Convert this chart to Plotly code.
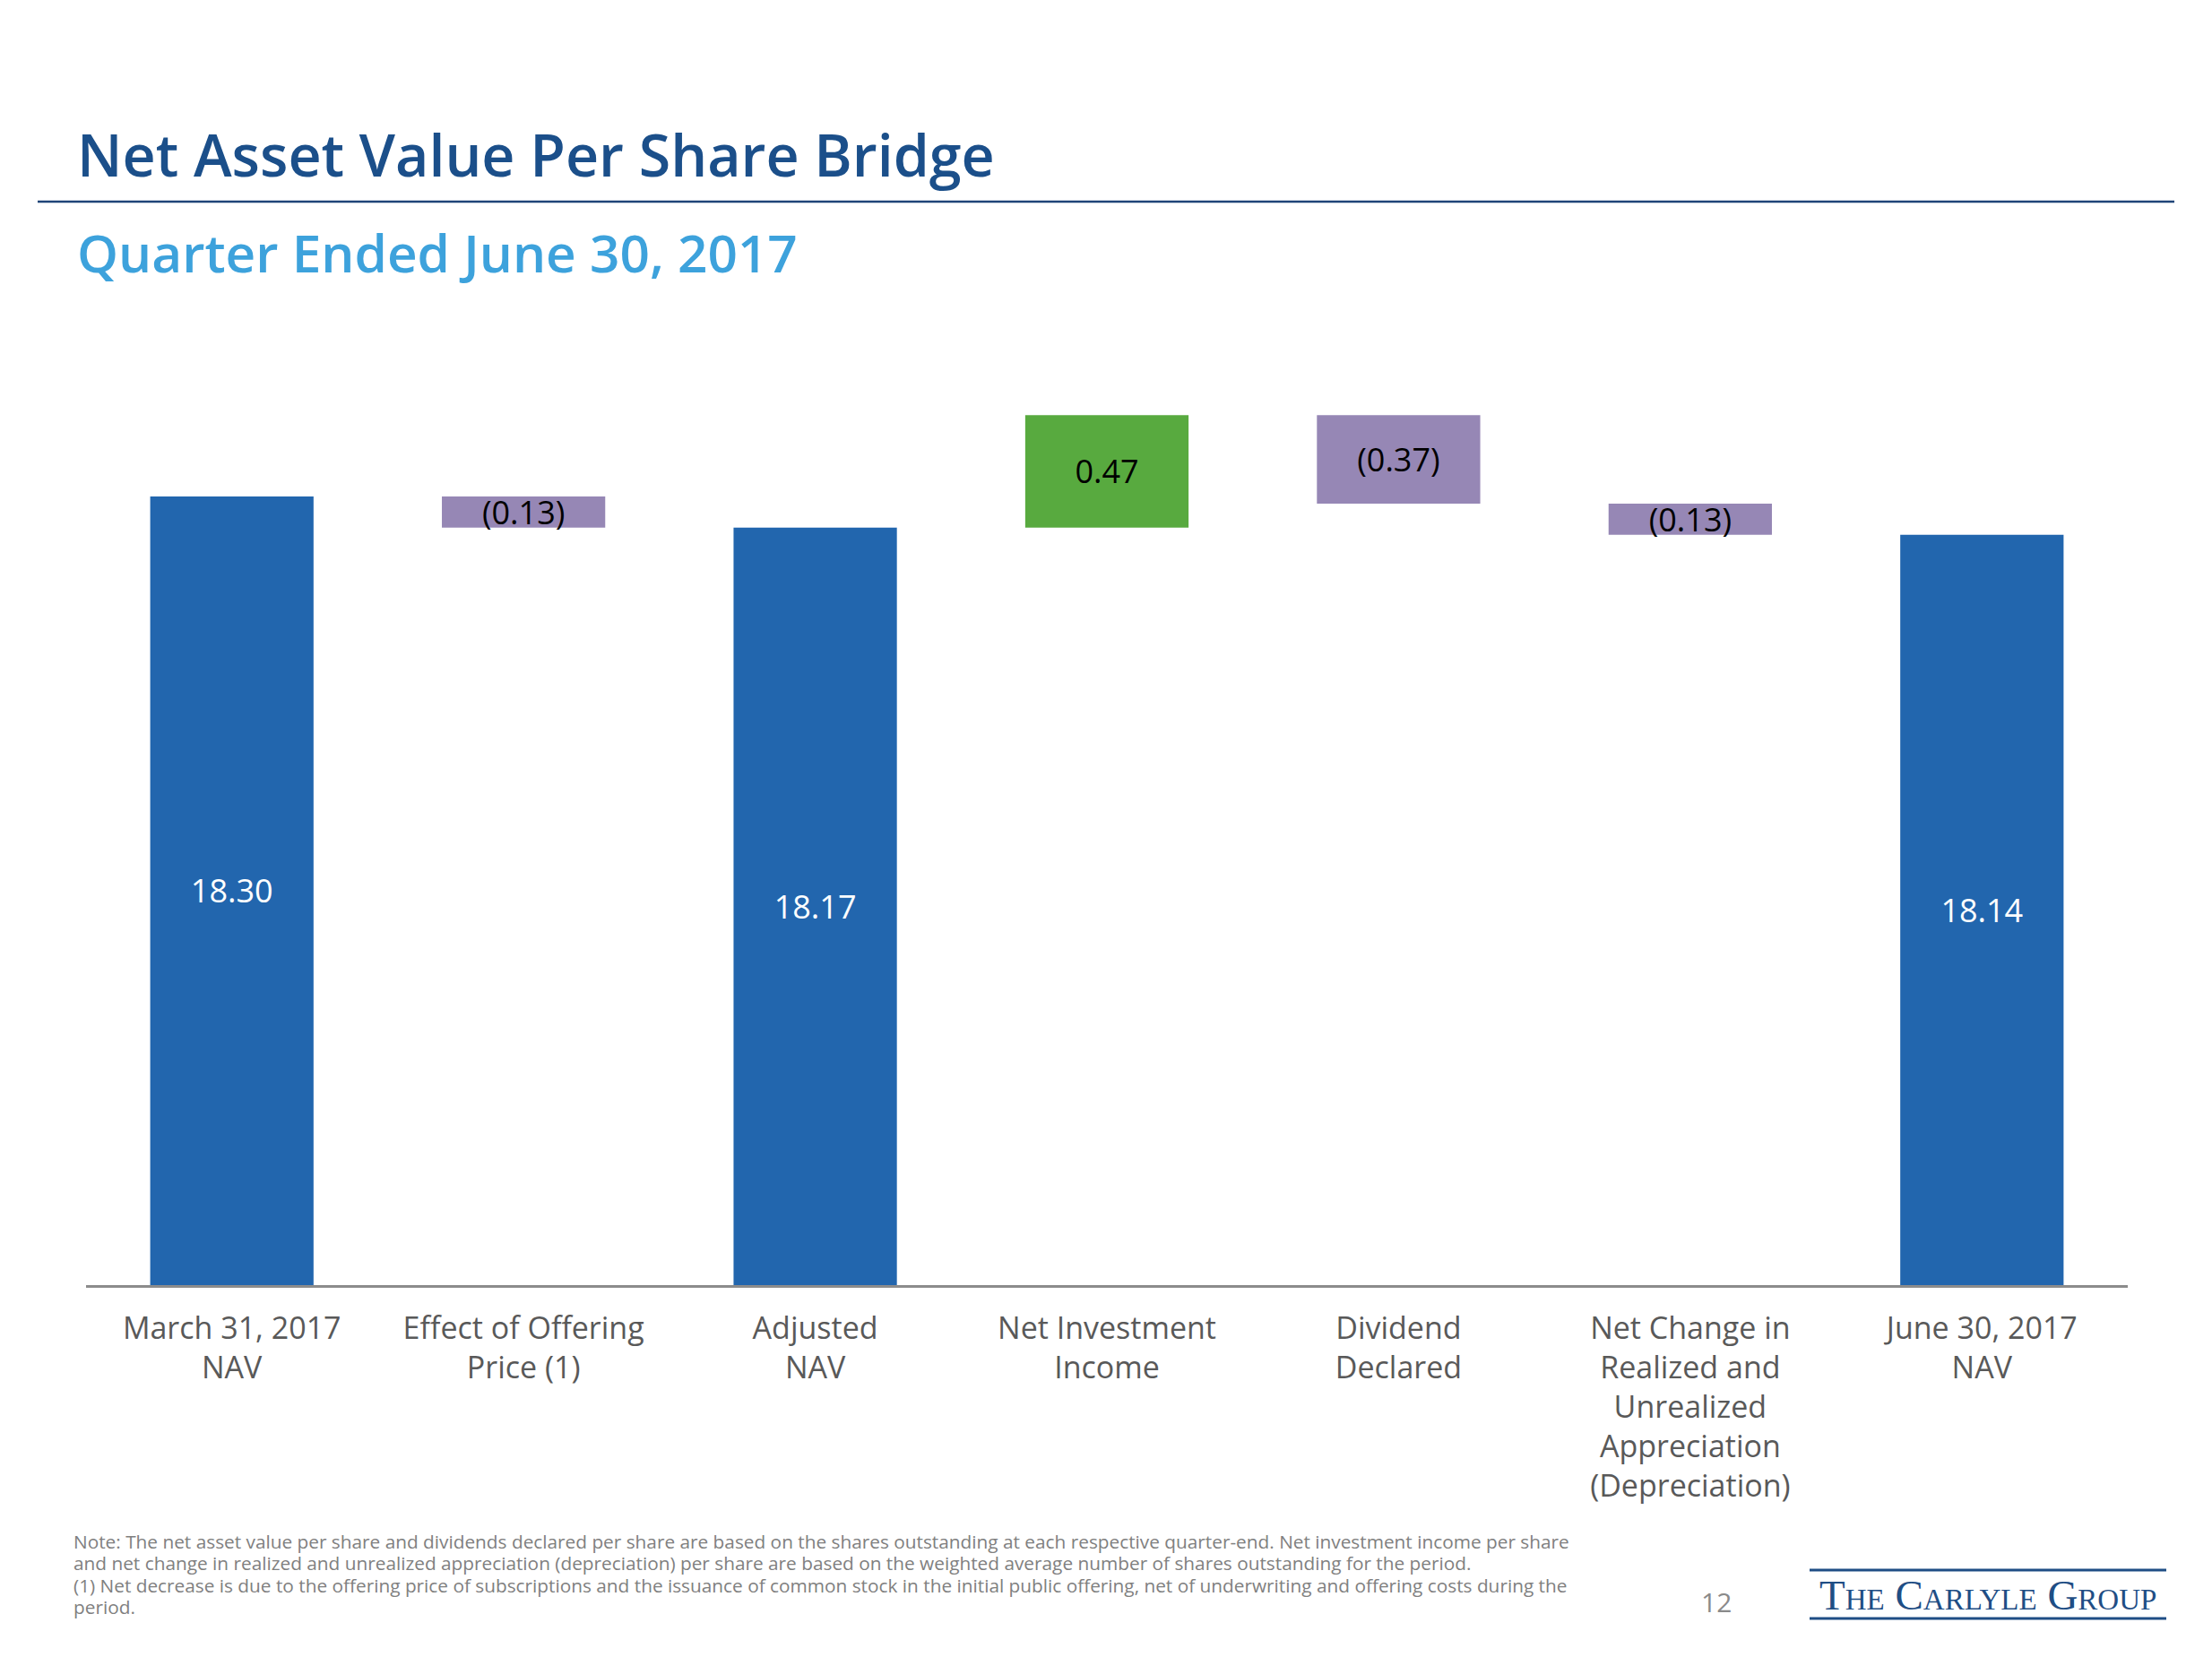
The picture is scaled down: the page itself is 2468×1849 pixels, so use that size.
import plotly.graph_objects as go

# ---- data ----
categories = [
    "March 31, 2017<br>NAV",
    "Effect of Offering<br>Price (1)",
    "Adjusted<br>NAV",
    "Net Investment<br>Income",
    "Dividend<br>Declared",
    "Net Change in<br>Realized and<br>Unrealized<br>Appreciation<br>(Depreciation)",
    "June 30, 2017<br>NAV",
]
values = [18.30, -0.13, 18.17, 0.47, -0.37, -0.13, 18.14]
measures = ["total", "relative", "total", "relative", "relative", "relative", "total"]
labels = ["18.30", "(0.13)", "18.17", "0.47", "(0.37)", "(0.13)", "18.14"]

footnote_lines = [
    "Note: The net asset value per share and dividends declared per share are based on the shares outstanding at each respective quarter-end. Net investment income per share",
    "and net change in realized and unrealized appreciation (depreciation) per share are based on the weighted average number of shares outstanding for the period.",
    "(1) Net decrease is due to the offering price of subscriptions and the issuance of common stock in the initial public offering, net of underwriting and offering costs during the",
    "period.",
]

# ---- styling ----
W, H = 2468, 1849
Y_MIN = 15.0
PX_PER_UNIT = 266.67
AXIS_Y_PX = 1434
PLOT_TOP_PX = 420
FONT = "Segoe UI, Open Sans, sans-serif"
C_TOTAL = "#2266AE"
C_UP = "#58AA3F"
C_DOWN = "#9687B5"

bases, heights, colors, txtcolors = [], [], [], []
running = 0.0
for v, m in zip(values, measures):
    if m == "total":
        running = v
        bases.append(Y_MIN)
        heights.append(v - Y_MIN)
        colors.append(C_TOTAL)
        txtcolors.append("white")
    else:
        bases.append(running)
        heights.append(v)
        running += v
        colors.append(C_UP if v > 0 else C_DOWN)
        txtcolors.append("black")

fig = go.Figure(
    go.Bar(
        x=categories,
        y=heights,
        base=bases,
        marker=dict(color=colors, line=dict(width=0)),
        text=labels,
        textposition="inside",
        insidetextanchor="middle",
        constraintext="none",
        textangle=0,
        insidetextfont=dict(family=FONT, size=36, color=txtcolors),
        hoverinfo="skip",
    )
)

def px_x(p):
    return p / W

def px_y(p):
    return 1 - p / H

fig.update_layout(
    width=W,
    height=H,
    margin=dict(l=0, r=0, t=0, b=0),
    paper_bgcolor="white",
    plot_bgcolor="white",
    showlegend=False,
    bargap=0.44,
    font=dict(family=FONT),
    xaxis=dict(
        domain=[px_x(96), px_x(2374)],
        showline=True,
        linecolor="#8C8C8C",
        linewidth=2.5,
        ticks="",
        showgrid=False,
        zeroline=False,
        tickfont=dict(family=FONT, size=34, color="#595959"),
        ticklabelstandoff=16,
        fixedrange=True,
    ),
    yaxis=dict(
        domain=[px_y(AXIS_Y_PX), px_y(PLOT_TOP_PX)],
        range=[Y_MIN, Y_MIN + (AXIS_Y_PX - PLOT_TOP_PX) / PX_PER_UNIT],
        visible=False,
        showgrid=False,
        zeroline=False,
    ),
)

annotations = [
    dict(text="Net Asset Value Per Share Bridge", x=px_x(84), y=px_y(172), xanchor="left", yanchor="middle",
         font=dict(family=FONT, size=64.5, color="#1B4F8A", weight=600)),
    dict(text="Quarter Ended June 30, 2017", x=px_x(84), y=px_y(281), xanchor="left", yanchor="middle",
         font=dict(family=FONT, size=58.5, color="#3DA2DC", weight=600)),
    dict(text="12", x=px_x(1915), y=px_y(1787), xanchor="center", yanchor="middle",
         font=dict(family=FONT, size=30, color="#8A8A8A")),
    dict(text="The Carlyle Group", x=px_x(2218), y=px_y(1780), xanchor="center", yanchor="middle",
         font=dict(family="Liberation Serif, serif", size=47, color="#1F4E85", variant="small-caps")),
]
for i, line in enumerate(footnote_lines):
    annotations.append(
        dict(text=line, x=px_x(80), y=px_y(1720 + i * 24.4), xanchor="left", yanchor="middle", align="left",
             font=dict(family=FONT, size=20.8, color="#808080"))
    )
for a in annotations:
    a.update(xref="paper", yref="paper", showarrow=False)
fig.update_layout(annotations=annotations)

shapes = [
    dict(type="line", x0=px_x(42), x1=px_x(2426), y0=px_y(225), y1=px_y(225), line=dict(color="#1F4478", width=2.5)),
    dict(type="line", x0=px_x(2019), x1=px_x(2417), y0=px_y(1752), y1=px_y(1752), line=dict(color="#1F4E85", width=3)),
    dict(type="line", x0=px_x(2019), x1=px_x(2417), y0=px_y(1806), y1=px_y(1806), line=dict(color="#1F4E85", width=3)),
]
for s in shapes:
    s.update(xref="paper", yref="paper")
fig.update_layout(shapes=shapes)

fig.write_html("out.html")
